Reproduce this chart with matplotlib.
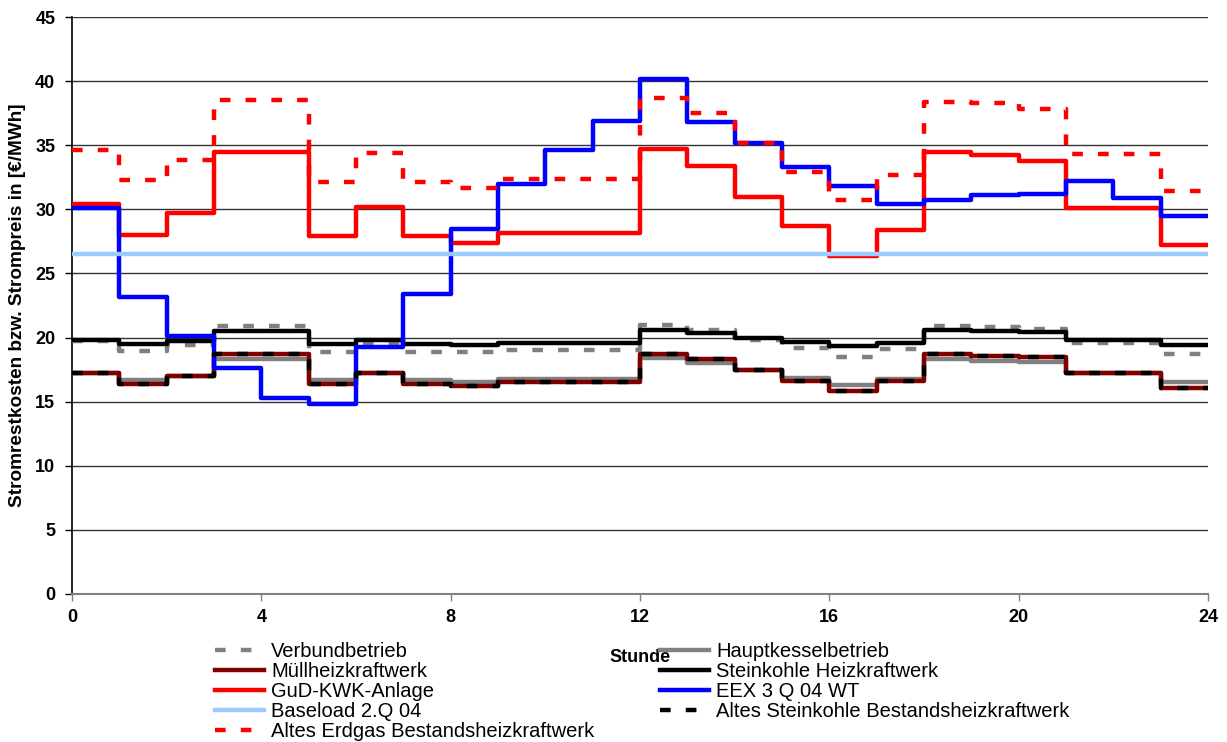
import matplotlib.pyplot as plt

plt.rcParams['font.family'] = ['Liberation Sans', 'DejaVu Sans']

HOURS = list(range(25))

VERBUND = [19.7, 18.95, 19.4, 20.9, 20.9, 18.9, 19.55, 18.9, 18.85, 19.0, 19.0, 19.0,
           21.0, 20.6, 19.8, 19.15, 18.45, 19.1, 20.9, 20.85, 20.7, 19.55, 19.55, 18.7]
HAUPTKESSEL = [17.25, 16.7, 17.0, 18.3, 18.3, 16.7, 17.2, 16.7, 16.55, 16.75, 16.75, 16.75,
               18.4, 18.05, 17.45, 16.85, 16.3, 16.8, 18.3, 18.2, 18.1, 17.2, 17.2, 16.5]
MUELL = [17.25, 16.4, 17.0, 18.75, 18.75, 16.4, 17.2, 16.4, 16.2, 16.5, 16.5, 16.5,
         18.75, 18.35, 17.45, 16.65, 15.85, 16.6, 18.7, 18.6, 18.45, 17.2, 17.2, 16.05]
STEINKOHLE = [19.8, 19.5, 19.75, 20.55, 20.55, 19.5, 19.8, 19.5, 19.45, 19.55, 19.55, 19.55,
              20.6, 20.35, 19.95, 19.65, 19.35, 19.55, 20.6, 20.5, 20.4, 19.8, 19.8, 19.4]
GUD = [30.4, 28.0, 29.7, 34.5, 34.5, 27.9, 30.2, 27.9, 27.35, 28.15, 28.15, 28.15,
       34.7, 33.4, 31.0, 28.7, 26.35, 28.4, 34.45, 34.2, 33.8, 30.1, 30.1, 27.2]
EEX = [30.1, 23.2, 20.1, 17.6, 15.25, 14.85, 19.3, 23.4, 28.5, 32.0, 34.6, 36.9,
       40.2, 36.8, 35.2, 33.3, 31.8, 30.4, 30.7, 31.1, 31.2, 32.2, 30.9, 29.5]
BASELOAD = 26.5
ALT_STEINKOHLE = [17.25, 16.4, 17.0, 18.75, 18.75, 16.4, 17.2, 16.4, 16.2, 16.5, 16.5, 16.5,
                  18.75, 18.35, 17.45, 16.65, 15.85, 16.6, 18.7, 18.6, 18.45, 17.2, 17.2, 16.05]
ALT_ERDGAS = [34.6, 32.3, 33.85, 38.5, 38.5, 32.1, 34.4, 32.1, 31.7, 32.4, 32.4, 32.4,
              38.7, 37.5, 35.15, 32.9, 30.7, 32.7, 38.4, 38.3, 37.8, 34.3, 34.3, 31.4]

Y_TICKS = list(range(0, 46, 5))
X_TICKS = list(range(0, 25, 4))

DASH = (2.4, 3.4)
LW = 3.2


def steps(values):
    # repeat last value so the step reaches hour 24
    return list(values) + [values[-1]]


fig = plt.figure(figsize=(12.27, 7.42), dpi=100)
ax = fig.add_axes([72 / 1227, 1 - 594 / 742, 1136 / 1227, 577 / 742])

series = [
    ("Verbundbetrieb", VERBUND, dict(color="#808080", dashes=DASH)),
    ("Hauptkesselbetrieb", HAUPTKESSEL, dict(color="#808080")),
    ("Müllheizkraftwerk", MUELL, dict(color="#800000")),
    ("Steinkohle Heizkraftwerk", STEINKOHLE, dict(color="black")),
    ("GuD-KWK-Anlage", GUD, dict(color="#FF0000")),
    ("EEX 3 Q 04 WT", EEX, dict(color="#0000FF")),
    ("Baseload 2.Q 04", [BASELOAD] * (len(HOURS) - 1), dict(color="#99CCFF")),
    ("Altes Steinkohle Bestandsheizkraftwerk", ALT_STEINKOHLE, dict(color="black", dashes=DASH)),
    ("Altes Erdgas Bestandsheizkraftwerk", ALT_ERDGAS, dict(color="#FF0000", dashes=DASH)),
]

handles = {}
for z, (label, vals, style) in enumerate(series):
    line, = ax.plot(HOURS, steps(vals), drawstyle="steps-post", lw=LW,
                    label=label, zorder=3 + z, **style)
    handles[label] = line

ax.set_xlim(0, 24)
ax.set_ylim(0, 45)
ax.set_xticks(X_TICKS)
ax.set_yticks(Y_TICKS)
ax.yaxis.grid(True, color="#333333", lw=1)
ax.set_axisbelow(True)

for side in ("top", "right"):
    ax.spines[side].set_visible(False)
ax.spines["left"].set_color("black")
ax.spines["left"].set_linewidth(1.2)
ax.spines["bottom"].set_color("#808080")
ax.spines["bottom"].set_linewidth(1.5)

ax.tick_params(axis="both", direction="out", length=5, width=1, labelsize=13)
ax.tick_params(axis="y", pad=7)
ax.tick_params(axis="x", pad=6, color="#808080")
for lab in ax.get_xticklabels() + ax.get_yticklabels():
    lab.set_fontweight("bold")

ax.set_ylabel("Stromrestkosten bzw. Strompreis in [€/MWh]", fontsize=13.7, fontweight="bold")
ax.yaxis.set_label_coords(-0.0405, 0.5)
ax.set_xlabel("Stunde", fontsize=13, fontweight="bold")
ax.xaxis.set_label_coords(0.5, -0.095)

col1 = ["Verbundbetrieb", "Müllheizkraftwerk", "GuD-KWK-Anlage", "Baseload 2.Q 04",
        "Altes Erdgas Bestandsheizkraftwerk"]
col2 = ["Hauptkesselbetrieb", "Steinkohle Heizkraftwerk", "EEX 3 Q 04 WT",
        "Altes Steinkohle Bestandsheizkraftwerk"]

leg_kw = dict(loc="upper left", frameon=False, fontsize=14.5, handlelength=2.45,
              handletextpad=0.33, labelspacing=0.05, borderpad=0, borderaxespad=0)
fig.legend(handles=[handles[k] for k in col1], labels=col1,
           bbox_to_anchor=(215 / 1227, 1 - 642 / 742), **leg_kw)
fig.legend(handles=[handles[k] for k in col2], labels=col2,
           bbox_to_anchor=(660 / 1227, 1 - 642 / 742), **leg_kw)

fig.savefig("out.png", dpi=100)
